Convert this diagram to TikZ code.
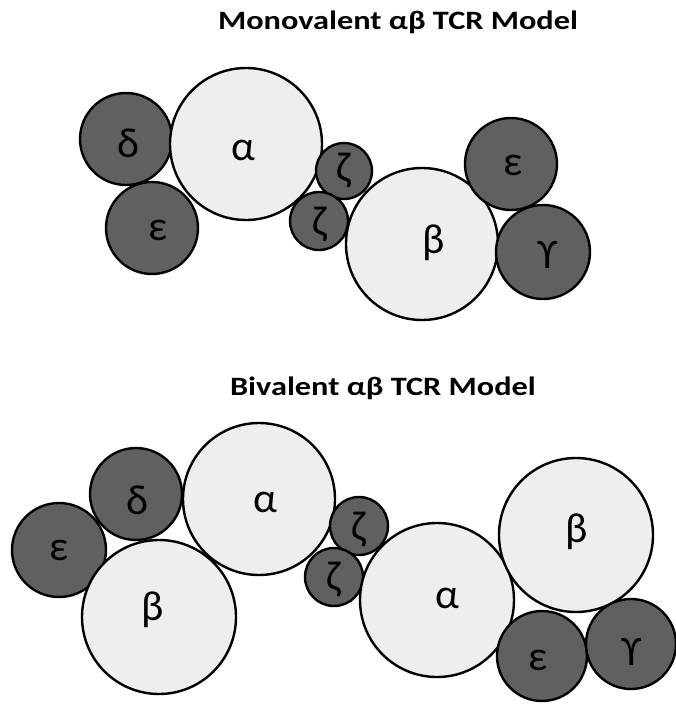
\documentclass[tikz,border=0pt]{standalone}
\usepackage{fontspec}
\setmainfont{Carlito}
\begin{document}
\begin{tikzpicture}[x=1pt,y=-1pt,
  ball/.style={circle,draw=black,line width=2.4pt,inner sep=0pt},
  dark/.style={ball,fill=darkgrey},
  light/.style={ball,fill=lightgrey},
  gk/.style={font=\fontsize{42}{44}\selectfont,inner sep=0pt},
  title/.style={font=\bfseries\fontsize{26.5}{28}\selectfont,inner sep=0pt}]
\definecolor{darkgrey}{RGB}{96,96,96}
\definecolor{lightgrey}{RGB}{238,238,238}
\useasboundingbox (0,0) rectangle (675,704);
% top
\node[title] (t1) at (398,22) {\scalebox{1.22}[1]{Monovalent αβ TCR Model}};
\node[dark,minimum size=92pt,label={[gk,xshift=2pt,yshift=-4pt]center:δ}] (d1) at (126,139) {};
\node[dark,minimum size=92pt,label={[gk,xshift=6pt,yshift=-2pt]center:ε}] (e1) at (152,228) {};
\node[light,minimum size=152pt,label={[gk,xshift=-3pt,yshift=-6pt]center:α}] (a1) at (246,144) {};
\node[dark,minimum size=56pt,label={[gk]center:ζ}] (z1) at (344,171) {};
\node[dark,minimum size=58pt,label={[gk,xshift=1pt,yshift=-4pt]center:ζ}] (z2) at (319,221) {};
\node[light,minimum size=152pt,label={[gk,xshift=12pt,yshift=1pt]center:β}] (b1) at (422,244) {};
\node[dark,minimum size=92pt,label={[gk,xshift=2pt,yshift=-1pt]center:ε}] (e2) at (511,164) {};
\node[dark,minimum size=94pt,label={[gk,xshift=5pt,yshift=-3pt]center:ϒ}] (g1) at (543,252) {};
% bottom
\node[title] (t2) at (383,388) {\scalebox{1.22}[1]{Bivalent αβ TCR Model}};
\node[dark,minimum size=94pt,label={[gk]center:ε}] (e3) at (59,550) {};
\node[dark,minimum size=92pt,label={[gk,xshift=1pt,yshift=-6pt]center:δ}] (d2) at (136,494) {};
\node[light,minimum size=152pt,label={[gk,xshift=6pt,yshift=-3pt]center:α}] (a2) at (259,499) {};
\node[light,minimum size=154pt,label={[gk,xshift=-6pt,yshift=7pt]center:β}] (b2) at (159,617) {};
\node[dark,minimum size=58pt,label={[gk,yshift=-4pt]center:ζ}] (z3) at (359,526) {};
\node[dark,minimum size=58pt,label={[gk,yshift=-3pt]center:ζ}] (z4) at (334,577) {};
\node[light,minimum size=154pt,label={[gk,xshift=10pt,yshift=2pt]center:α}] (a3) at (437,600) {};
\node[light,minimum size=154pt,label={[gk,xshift=1pt,yshift=3pt]center:β}] (b3) at (576,535) {};
\node[dark,minimum size=90pt,label={[gk,xshift=-4pt,yshift=-4pt]center:ε}] (e4) at (542,656) {};
\node[dark,minimum size=90pt,label={[gk,xshift=1pt,yshift=-8pt]center:ϒ}] (g2) at (631,644) {};
\end{tikzpicture}
\end{document}
